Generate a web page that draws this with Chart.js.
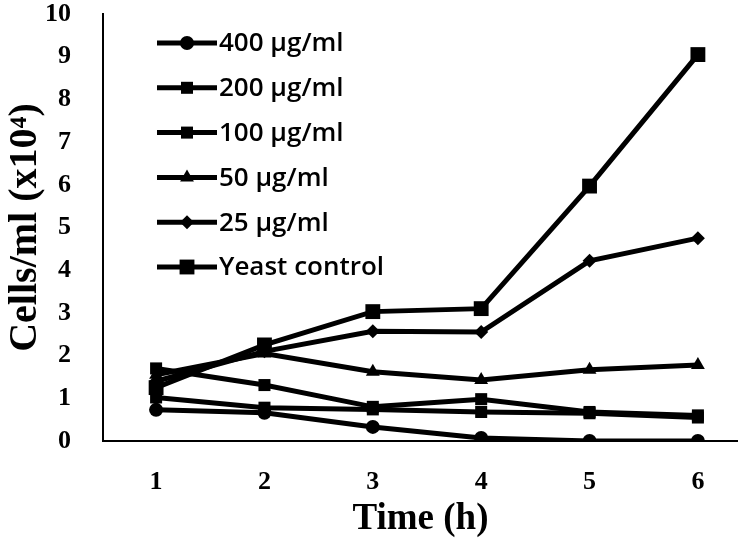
<!DOCTYPE html>
<html>
<head>
<meta charset="utf-8">
<script src="https://cdn.jsdelivr.net/npm/chart.js@4.4.1/dist/chart.umd.min.js"></script>
<style>
  html, body { margin: 0; padding: 0; background: #fff; }
  #wrap { width: 738px; height: 546px; }
</style>
</head>
<body>
<div id="wrap"><canvas id="cellChart" width="738" height="546"></canvas></div>
<script>
const hours = [1, 2, 3, 4, 5, 6];
const yTicks = [0, 1, 2, 3, 4, 5, 6, 7, 8, 9, 10];

const seriesNames = ['400 µg/ml', '200 µg/ml', '100 µg/ml', '50 µg/ml', '25 µg/ml', 'Yeast control'];
const dose400 = [0.73, 0.66, 0.33, 0.07, 0.0, 0.0];
const dose200 = [1.70, 1.31, 0.80, 0.98, 0.68, 0.60];
const dose100 = [1.02, 0.78, 0.74, 0.68, 0.65, 0.55];
const dose50 = [1.55, 2.05, 1.62, 1.43, 1.67, 1.78];
const dose25 = [1.40, 2.10, 2.57, 2.55, 4.22, 4.75];
const yeastControl = [1.25, 2.25, 3.03, 3.10, 5.97, 9.05];

const markerStyles = ['circle', 'rect', 'rect', 'triangle', 'rectRot', 'rect'];
const markerSizes = [7, 8.5, 8.5, 8, 7, 10.5];

const allSeries = [dose400, dose200, dose100, dose50, dose25, yeastControl];
const serif = "'Liberation Serif', 'Times New Roman', serif";

function toPoints(values) {
    return hours.map(function (h, i) { return { x: h, y: values[i] }; });
}

const datasets = allSeries.map(function (values, i) {
    return {
        label: seriesNames[i],
        data: toPoints(values),
        borderColor: '#000',
        backgroundColor: '#000',
        borderWidth: 5,
        pointStyle: markerStyles[i],
        pointRadius: markerSizes[i],
        pointBackgroundColor: '#000',
        pointBorderColor: '#000',
        pointBorderWidth: 0,
        tension: 0
    };
});

// legend drawn inside the plot, line sample with the marker in the middle
const insideLegend = {
    id: 'insideLegend',
    afterDatasetsDraw: function (chart) {
        const ctx = chart.ctx;
        const area = chart.chartArea;
        const x0 = area.left + 54;
        const y0 = area.top + 29;
        ctx.save();
        chart.data.datasets.forEach(function (ds, i) {
            const y = y0 + i * 44.8;
            ctx.strokeStyle = '#000';
            ctx.lineWidth = 5;
            ctx.beginPath();
            ctx.moveTo(x0, y);
            ctx.lineTo(x0 + 60, y);
            ctx.stroke();
            ctx.fillStyle = '#000';
            if (Chart.helpers && Chart.helpers.drawPoint) {
                Chart.helpers.drawPoint(ctx, {
                    pointStyle: ds.pointStyle,
                    radius: ds.pointRadius,
                    rotation: 0,
                    borderWidth: 0
                }, x0 + 30, y);
            }
            ctx.font = "600 26px 'Open Sans', sans-serif";
            ctx.textAlign = 'left';
            ctx.textBaseline = 'middle';
            ctx.fillText(ds.label, x0 + 62, y + 1);
        });
        ctx.restore();
    }
};

new Chart(document.getElementById('cellChart'), {
    type: 'line',
    data: { datasets: datasets },
    options: {
        responsive: false,
        animation: false,
        layout: { autoPadding: false, padding: { top: 0, right: 0, left: 0, bottom: 0 } },
        plugins: {
            legend: { display: false },
            tooltip: { enabled: false }
        },
        scales: {
            x: {
                type: 'linear',
                min: 0.51,
                max: 6.37,
                grid: { display: false },
                border: { display: true, color: '#000', width: 2 },
                afterBuildTicks: function (axis) {
                    axis.ticks = hours.map(function (h) { return { value: h }; });
                },
                afterFit: function (axis) {
                    axis.height = 105;
                    axis.paddingLeft = 0;
                    axis.paddingRight = 0;
                },
                ticks: {
                    color: '#000',
                    padding: 20,
                    maxRotation: 0,
                    font: { family: serif, size: 26, weight: 'bold', lineHeight: 1 }
                },
                title: {
                    display: true,
                    text: 'Time (h)',
                    color: '#000',
                    padding: { top: 14 },
                    font: { family: serif, size: 37, weight: 'bold' }
                }
            },
            y: {
                min: 0,
                max: 10,
                grid: { display: false },
                border: { display: true, color: '#000', width: 2 },
                afterBuildTicks: function (axis) {
                    axis.ticks = yTicks.map(function (v) { return { value: v }; });
                },
                afterFit: function (axis) {
                    axis.width = 103;
                    axis.paddingTop = 14;
                    axis.paddingBottom = 0;
                },
                ticks: {
                    color: '#000',
                    padding: 24,
                    font: { family: serif, size: 26, weight: 'bold', lineHeight: 1 }
                },
                title: {
                    display: true,
                    text: 'Cells/ml (x10⁴)',
                    color: '#000',
                    padding: { top: 2, bottom: 0 },
                    font: { family: serif, size: 40, weight: 'bold' }
                }
            }
        }
    },
    plugins: [insideLegend]
});
</script>
</body>
</html>
